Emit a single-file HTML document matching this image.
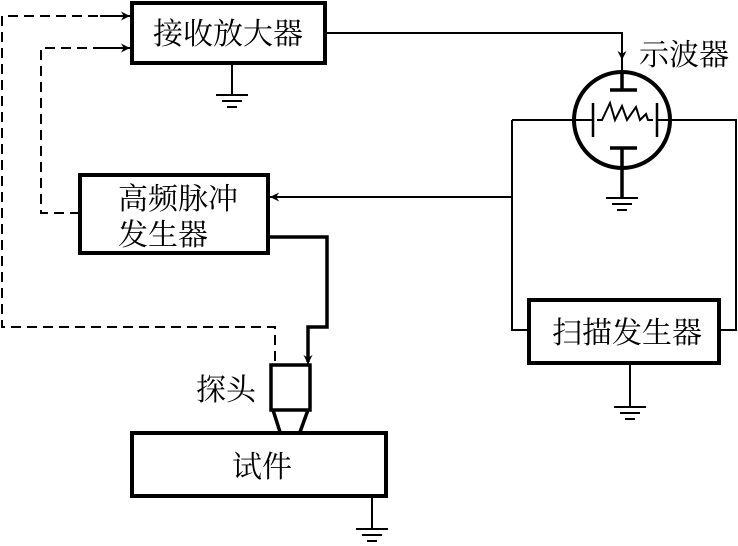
<!DOCTYPE html>
<html><head><meta charset="utf-8"><style>
html,body{margin:0;padding:0;background:#fff;}
svg{display:block;}
text{font-family:"Liberation Serif","Noto Serif CJK SC","Noto Sans CJK SC",serif;font-size:30px;fill:#000;}
</style></head><body>
<svg width="738" height="546" viewBox="0 0 738 546" xmlns="http://www.w3.org/2000/svg">
<defs>
<marker id="a" viewBox="0 0 10 10" refX="10" refY="5" markerWidth="16" markerHeight="9" markerUnits="userSpaceOnUse" orient="auto"><path d="M0,0 L10,5 L0,10 L3,5z" fill="#000"/></marker>
</defs>
<g fill="none" stroke="#000">
<rect x="132" y="3" width="193" height="60" stroke-width="4"/>
<rect x="80" y="175" width="188" height="78" stroke-width="4"/>
<rect x="529" y="300" width="190" height="63" stroke-width="4"/>
<rect x="132" y="433" width="254" height="63" stroke-width="4"/>
<rect x="271" y="365" width="39" height="45" stroke-width="3.5"/>
<path d="M273 410 L280 432 M308 410 L300 432" stroke-width="3.5"/>
<path d="M130 16 H2 V327 H275 V365" stroke-width="2" stroke-dasharray="10,6"/>
<path d="M80 213 H41 V48 H130" stroke-width="2" stroke-dasharray="10,6"/>
<path d="M100 16 H130" stroke-width="2" marker-end="url(#a)"/>
<path d="M100 48 H130" stroke-width="2" marker-end="url(#a)"/>
<path d="M325 33 H622 V70" stroke-width="2"/>
<path d="M622 40 V60" stroke-width="2" marker-end="url(#a)"/>
<path d="M268 237 H327 V327 H308 V362" stroke-width="3.5"/>
<path d="M308 340 V364" stroke-width="2" marker-end="url(#a)"/>
<path d="M512 197 H272" stroke-width="2"/>
<path d="M300 197 H270" stroke-width="2" marker-end="url(#a)"/>
<circle cx="622" cy="120" r="48" stroke-width="4"/>
<path d="M512 120 H593 M657 120 H736 V330 H719 M512 120 V330 H529" stroke-width="2"/>
<path d="M622 72 V90 M610 90 H637 M610 148 H637 M622 148 V197" stroke-width="3.5"/>
<path d="M593 103 V137 M657 103 V137" stroke-width="2.5"/>
<path d="M597 120 H602 L610 103 L615 120 L622 106 L627 120 L636 107 L640 120 L646 114 L648 120 H653" stroke-width="2"/>
<g stroke-width="2">
<path d="M232 63 V95 M216 95 H248 M222 101 H242 M227 107 H237"/>
<path d="M606 198 H638 M612 204 H632 M617 210 H627"/>
<path d="M630 363 V407 M614 407 H646 M620 413 H640 M625 419 H635"/>
<path d="M372 496 V529 M356 529 H388 M362 535 H382 M367 541 H377"/>
</g>
</g>
<text x="153" y="44">接收放大器</text>
<text x="639" y="65" font-size="29">示波器</text>
<text x="118" y="209">高频脉冲</text>
<text x="118" y="245">发生器</text>
<text x="552" y="343">扫描发生器</text>
<text x="196" y="400">探头</text>
<text x="232" y="477">试件</text>
</svg>
</body></html>
